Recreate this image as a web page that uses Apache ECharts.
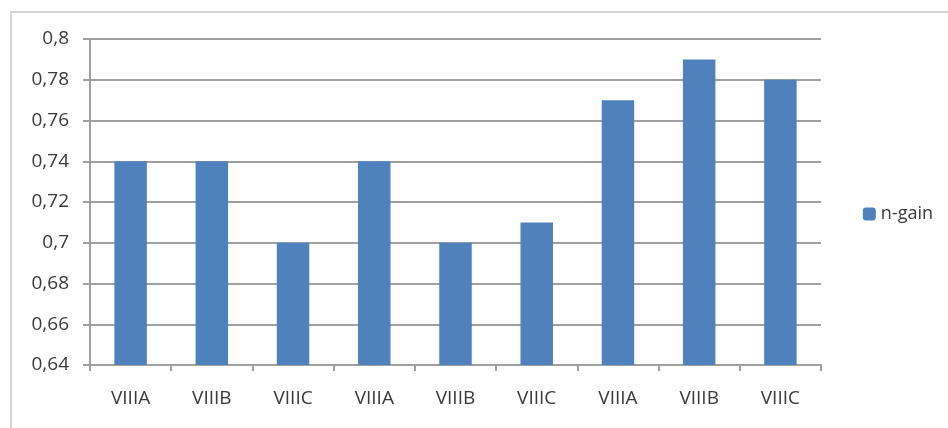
<!DOCTYPE html>
<html>
<head>
<meta charset="utf-8">
<script src="https://cdn.jsdelivr.net/npm/echarts@6/dist/echarts.min.js"></script>
<style>
  html, body { margin: 0; padding: 0; background: #fff; }
  #main { width: 948px; height: 428px; }
</style>
</head>
<body>
<div id="main"></div>
<script>
var categories = ['VIIIA', 'VIIIB', 'VIIIC', 'VIIIA', 'VIIIB', 'VIIIC', 'VIIIA', 'VIIIB', 'VIIIC'];
var nGain = [0.74, 0.74, 0.70, 0.74, 0.70, 0.71, 0.77, 0.79, 0.78];
var yMin = 0.64, yMax = 0.80, yStep = 0.02;

var chart = echarts.init(document.getElementById('main'));
chart.setOption({
  animation: false,
  textStyle: { fontFamily: 'Open Sans' },
  graphic: [{
    type: 'polyline',
    shape: { points: [[11, 428], [11, 12], [948, 12]] },
    style: { stroke: '#d4d4d4', lineWidth: 2, fill: null }
  }],
  legend: {
    right: 10,
    top: 'middle',
    itemWidth: 13,
    itemHeight: 13,
    itemGap: 6,
    textStyle: { fontSize: 18, color: '#3a3a3a', fontWeight: 500 },
    data: ['n-gain']
  },
  grid: { left: 90, right: 127, top: 39, bottom: 63 },
  xAxis: {
    type: 'category',
    data: categories,
    axisLine: { lineStyle: { color: '#a0a0a0', width: 2 } },
    axisTick: { show: true, length: 6, lineStyle: { color: '#a0a0a0', width: 2 } },
    axisLabel: { fontSize: 19, color: '#3a3a3a', fontWeight: 500, margin: 24 }
  },
  yAxis: {
    type: 'value',
    min: yMin,
    max: yMax,
    interval: yStep,
    axisLine: { show: true, lineStyle: { color: '#a0a0a0', width: 2 } },
    axisTick: { show: true, length: 7, lineStyle: { color: '#a0a0a0', width: 2 } },
    splitLine: { lineStyle: { color: '#a0a0a0', width: 2 } },
    axisLabel: {
      fontSize: 19,
      color: '#3a3a3a',
      fontWeight: 500,
      margin: 21,
      formatter: function (v) { return String(Math.round(v * 100) / 100).replace('.', ','); }
    }
  },
  series: [{
    name: 'n-gain',
    type: 'bar',
    data: nGain,
    barWidth: '40%',
    itemStyle: { color: '#4F81BD' }
  }]
});
</script>
</body>
</html>
